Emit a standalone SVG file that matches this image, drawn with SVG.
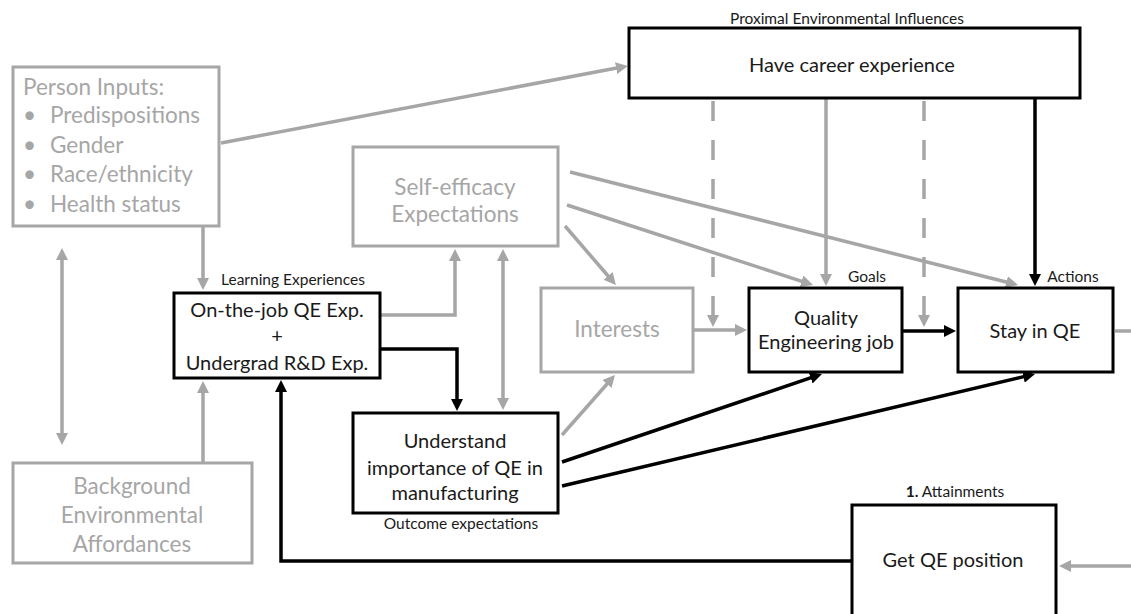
<svg xmlns="http://www.w3.org/2000/svg" width="1131" height="614" viewBox="0 0 1131 614">
  <style>
    text { font-family: Lato, "Open Sans", "Liberation Sans", sans-serif; }
    .box-g { fill: #ffffff; stroke: #a6a6a6; stroke-width: 3; }
    .box-k { fill: #ffffff; stroke: #000000; stroke-width: 3; }
    .t-g { fill: #a6a6a6; font-size: 22.5px; }
    .t-k { fill: #1a1a1a; font-size: 20px; }
    .lbl { fill: #1a1a1a; font-size: 15.5px; }
    .mid { text-anchor: middle; }
    .c-g { fill: none; stroke: #a6a6a6; stroke-width: 3.5; }
    .c-k { fill: none; stroke: #000000; stroke-width: 3.5; }
    .dash { stroke-dasharray: 20 19; }
  </style>
  <defs>
    <marker id="ah-g" viewBox="0 0 10 10" refX="5" refY="5" markerWidth="12" markerHeight="12" markerUnits="userSpaceOnUse" orient="auto-start-reverse">
      <path d="M0,0 L10,5 L0,10 z" fill="#a6a6a6"/>
    </marker>
    <marker id="ah-k" viewBox="0 0 10 10" refX="5" refY="5" markerWidth="12" markerHeight="12" markerUnits="userSpaceOnUse" orient="auto-start-reverse">
      <path d="M0,0 L10,5 L0,10 z" fill="#000000"/>
    </marker>
  </defs>

  <!-- connectors -->
  <g id="connectors">
    <line class="c-g" x1="221" y1="143" x2="622" y2="67" marker-end="url(#ah-g)"/>
    <line class="c-g" x1="203" y1="226" x2="203" y2="284" marker-end="url(#ah-g)"/>
    <line class="c-g" x1="203" y1="463" x2="203" y2="387" marker-end="url(#ah-g)"/>
    <line class="c-g" x1="62" y1="254" x2="62" y2="439" marker-start="url(#ah-g)" marker-end="url(#ah-g)"/>
    <polyline class="c-g" points="381,315 455,315 455,255" marker-end="url(#ah-g)"/>
    <line class="c-g" x1="503" y1="255" x2="503" y2="404" marker-start="url(#ah-g)" marker-end="url(#ah-g)"/>
    <line class="c-g" x1="565" y1="226" x2="612" y2="280.5" marker-end="url(#ah-g)"/>
    <line class="c-g" x1="567" y1="205" x2="807.3" y2="283.1" marker-end="url(#ah-g)"/>
    <line class="c-g" x1="570" y1="172" x2="1012.2" y2="283.5" marker-end="url(#ah-g)"/>
    <line class="c-g" x1="562" y1="435" x2="611" y2="379.5" marker-end="url(#ah-g)"/>
    <line class="c-g" x1="694" y1="330" x2="741" y2="330" marker-end="url(#ah-g)"/>
    <line class="c-g dash" x1="713" y1="101" x2="713" y2="321" marker-end="url(#ah-g)"/>
    <line class="c-g" x1="826" y1="99" x2="826" y2="280" marker-end="url(#ah-g)"/>
    <line class="c-g dash" x1="924" y1="101" x2="924" y2="321" marker-end="url(#ah-g)"/>
    <line class="c-g" x1="1115" y1="331" x2="1131" y2="331"/>
    <line class="c-g" x1="1131" y1="566" x2="1065" y2="566" marker-end="url(#ah-g)"/>

    <line class="c-k" x1="1035" y1="99" x2="1035" y2="280" marker-end="url(#ah-k)"/>
    <line class="c-k" x1="903" y1="331" x2="950" y2="331" marker-end="url(#ah-k)"/>
    <polyline class="c-k" points="381,349 457,349 457,405" marker-end="url(#ah-k)"/>
    <line class="c-k" x1="562" y1="462" x2="816.3" y2="375.9" marker-end="url(#ah-k)"/>
    <line class="c-k" x1="562" y1="486" x2="1029.2" y2="375.4" marker-end="url(#ah-k)"/>
    <polyline class="c-k" points="852,561 281,561 281,386" marker-end="url(#ah-k)"/>
  </g>

  <g id="person-inputs">
    <rect class="box-g" x="13" y="67" width="206" height="159"/>
    <text class="t-g" x="23" y="95">Person Inputs:</text>
    <text class="t-g" x="23" y="123">•</text>
    <text class="t-g" x="50" y="123">Predispositions</text>
    <text class="t-g" x="23" y="153">•</text>
    <text class="t-g" x="50" y="153">Gender</text>
    <text class="t-g" x="23" y="182">•</text>
    <text class="t-g" x="50" y="182">Race/ethnicity</text>
    <text class="t-g" x="23" y="212">•</text>
    <text class="t-g" x="50" y="212">Health status</text>
  </g>

  <g id="background">
    <rect class="box-g" x="13" y="463" width="239" height="100"/>
    <text class="t-g mid" x="132" y="494">Background</text>
    <text class="t-g mid" x="132" y="523">Environmental</text>
    <text class="t-g mid" x="132" y="552">Affordances</text>
  </g>

  <g id="career">
    <text class="lbl mid" x="847" y="24">Proximal Environmental Influences</text>
    <rect class="box-k" x="629" y="28" width="451" height="70"/>
    <text class="t-k mid" x="852" y="72">Have career experience</text>
  </g>

  <g id="self-efficacy">
    <rect class="box-g" x="353" y="147" width="205" height="99"/>
    <text class="t-g mid" x="455" y="195">Self-efficacy</text>
    <text class="t-g mid" x="455" y="222">Expectations</text>
  </g>

  <g id="learning">
    <text class="lbl mid" x="293" y="285">Learning Experiences</text>
    <rect class="box-k" x="174" y="293" width="206" height="85"/>
    <text class="t-k mid" x="277" y="317">On-the-job QE Exp.</text>
    <text class="t-k mid" x="277" y="343">+</text>
    <text class="t-k mid" x="277" y="370">Undergrad R&amp;D Exp.</text>
  </g>

  <g id="interests">
    <rect class="box-g" x="541" y="288" width="152" height="84"/>
    <text class="t-g mid" x="617" y="337">Interests</text>
  </g>

  <g id="goals">
    <text class="lbl mid" x="867" y="282">Goals</text>
    <rect class="box-k" x="749" y="288" width="153" height="84"/>
    <text class="t-k mid" x="826" y="325">Quality</text>
    <text class="t-k mid" x="826" y="349">Engineering job</text>
  </g>

  <g id="actions">
    <text class="lbl mid" x="1073" y="282">Actions</text>
    <rect class="box-k" x="958" y="288" width="155" height="84"/>
    <text class="t-k mid" x="1035" y="338">Stay in QE</text>
  </g>

  <g id="outcome">
    <rect class="box-k" x="353" y="413" width="205" height="100"/>
    <text class="t-k mid" x="455" y="448">Understand</text>
    <text class="t-k mid" x="455" y="475">importance of QE in</text>
    <text class="t-k mid" x="455" y="500">manufacturing</text>
    <text class="lbl mid" x="461" y="529">Outcome expectations</text>
  </g>

  <g id="attainments">
    <text class="lbl mid" x="955" y="497"><tspan font-weight="bold">1.</tspan> Attainments</text>
    <rect class="box-k" x="852" y="505" width="204" height="120"/>
    <text class="t-k mid" x="953" y="567">Get QE position</text>
  </g>
</svg>
